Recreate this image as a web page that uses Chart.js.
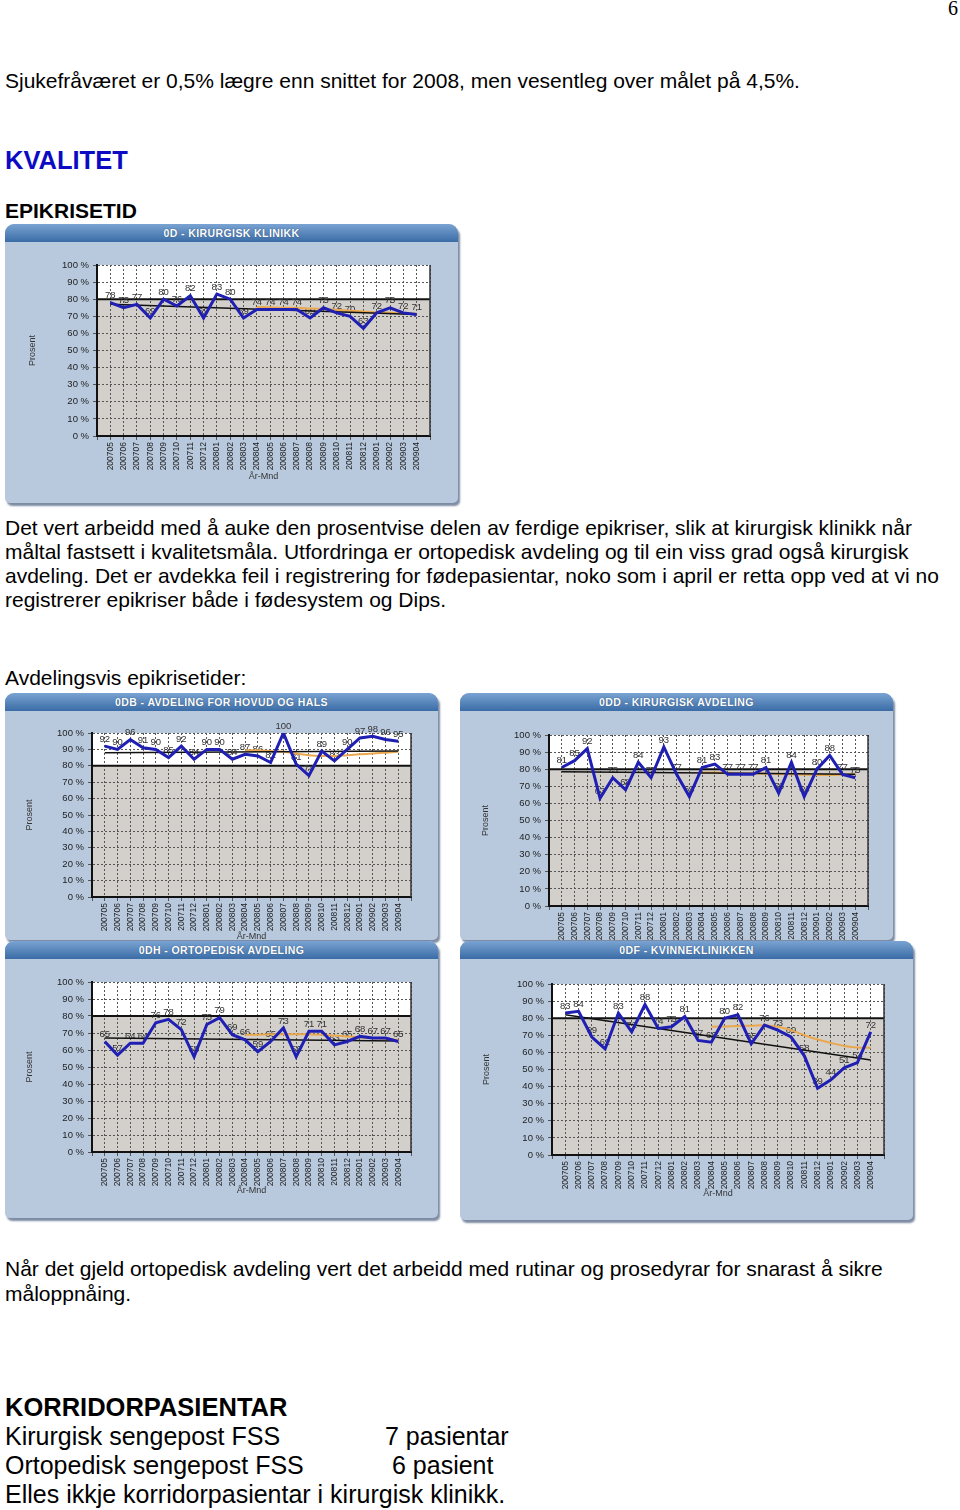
<!DOCTYPE html>
<html>
<head>
<meta charset="utf-8">
<script src="https://cdn.jsdelivr.net/npm/chart.js@4.4.0/dist/chart.umd.min.js"></script>
<style>
    body { margin: 0; width: 960px; height: 1510px; position: relative; background: #fff; overflow: hidden;
           font-family: "Liberation Sans", Arial, sans-serif; color: #000; }
    .t { position: absolute; left: 5px; white-space: nowrap; font-size: 21px; line-height: 24px; }
    .big { font-size: 25px; line-height: 28px; }
    .page-no { position: absolute; right: 2px; top: -3px; font: 20px "Liberation Serif", serif; }
    .panel { position: absolute; background: #b8c9de; border-radius: 9px 9px 5px 5px;
             box-shadow: 2px 3px 2px #7d8ca3; }
    .hdr { position: absolute; left: 0; right: 0; top: 0; height: 18px; border-radius: 9px 9px 0 0;
           background: linear-gradient(#79a3d2, #3b6ca6); color: #fff; text-align: center;
           font: bold 10.5px "Liberation Sans", Arial, sans-serif; line-height: 18px; letter-spacing: .4px;
           text-shadow: 0 0 1px #1d3e66; }
    .panel canvas { position: absolute; left: 0; }
</style>
</head>
<body>
<div class="page-no">6</div>
<div class="t" style="top:69px">Sjukefråværet er 0,5% lægre enn snittet for 2008, men vesentleg over målet på 4,5%.</div>
<div class="t" style="top:145px;font-size:25.5px;line-height:30px;font-weight:bold;color:#0b0bc4">KVALITET</div>
<div class="t" style="top:199px;font-weight:bold">EPIKRISETID</div>

<div class="panel" style="left:5px;top:224px;width:453px;height:279px">
    <div class="hdr">0D - KIRURGISK KLINIKK</div>
    <canvas id="c1" width="453" height="256" style="top:20px"></canvas>
</div>

<div class="t" style="top:516px">Det vert arbeidd med å auke den prosentvise delen av ferdige epikriser, slik at kirurgisk klinikk når</div>
<div class="t" style="top:540px">måltal fastsett i kvalitetsmåla. Utfordringa er ortopedisk avdeling og til ein viss grad også kirurgisk</div>
<div class="t" style="top:564px">avdeling. Det er avdekka feil i registrering for fødepasientar, noko som i april er retta opp ved at vi no</div>
<div class="t" style="top:588px">registrerer epikriser både i fødesystem og Dips.</div>

<div class="t" style="top:666px">Avdelingsvis epikrisetider:</div>

<div class="panel" style="left:5px;top:693px;width:433px;height:247px">
    <div class="hdr">0DB - AVDELING FOR HOVUD OG HALS</div>
    <canvas id="c2" width="433" height="227" style="top:20px"></canvas>
</div>
<div class="panel" style="left:460px;top:693px;width:433px;height:247px">
    <div class="hdr">0DD - KIRURGISK AVDELING</div>
    <canvas id="c3" width="433" height="227" style="top:20px"></canvas>
</div>
<div class="panel" style="left:5px;top:941px;width:433px;height:277px">
    <div class="hdr">0DH - ORTOPEDISK AVDELING</div>
    <canvas id="c4" width="433" height="255" style="top:19px"></canvas>
</div>
<div class="panel" style="left:460px;top:941px;width:453px;height:279px">
    <div class="hdr">0DF - KVINNEKLINIKKEN</div>
    <canvas id="c5" width="453" height="257" style="top:19px"></canvas>
</div>

<div class="t" style="top:1257px">Når det gjeld ortopedisk avdeling vert det arbeidd med rutinar og prosedyrar for snarast å sikre</div>
<div class="t" style="top:1282px">måloppnåing.</div>

<div class="t big" style="top:1393px;font-size:25.5px;font-weight:bold">KORRIDORPASIENTAR</div>
<div class="t big" style="top:1422px">Kirurgisk sengepost FSS</div>
<div class="t big" style="top:1422px;left:385px">7 pasientar</div>
<div class="t big" style="top:1451px">Ortopedisk sengepost FSS</div>
<div class="t big" style="top:1451px;left:392px">6 pasient</div>
<div class="t big" style="top:1480px">Elles ikkje korridorpasientar i kirurgisk klinikk.</div>

<script>
const months = ['200705', '200706', '200707', '200708', '200709', '200710', '200711', '200712',
    '200801', '200802', '200803', '200804', '200805', '200806', '200807', '200808', '200809', '200810',
    '200811', '200812', '200901', '200902', '200903', '200904'];

// share of finished discharge summaries, per month (%)
const kirKlinikk = [78, 75, 77, 69, 80, 76, 82, 69, 83, 80, 69, 74, 74, 74, 74, 69, 75, 72, 70, 63, 72, 75, 72, 71];
const hovudHals  = [92, 90, 96, 91, 90, 85, 92, 84, 90, 90, 84, 87, 86, 82, 100, 81, 74, 89, 83, 90, 97, 98, 96, 95];
const kirAvd     = [81, 85, 92, 63, 75, 68, 84, 75, 93, 77, 64, 81, 83, 77, 77, 77, 81, 66, 84, 64, 80, 88, 77, 75];
const ortoped    = [65, 57, 64, 64, 76, 78, 72, 56, 75, 79, 69, 66, 59, 65, 73, 56, 71, 71, 63, 65, 68, 67, 67, 65];
const kvinne     = [83, 84, 69, 62, 83, 72, 88, 74, 75, 81, 67, 66, 80, 82, 65, 76, 73, 69, 58, 39, 44, 51, 54, 72];

// trend line, first and last month
const kirKlinikkTrend = [77, 71];
const hovudHalsTrend  = [88, 89];
const kirAvdTrend     = [78.5, 77];
const ortopedTrend    = [67, 65.3];
const kvinneTrend     = [82, 55.6];

const avgFrom = 11;
const kirKlinikkAvg = [75.5, 75.3, 75, 75, 74.6, 74.2, 73.8, 73.3, 72.8, 72.4, 72.1, 71.8, 71.5];
const hovudHalsAvg  = [89.5, 89.5, 89, 88.5, 87.5, 86.5, 86, 86, 86.5, 87, 87.5, 88, 88.5];
const kirAvdAvg     = [78, 78, 77.8, 77.6, 77.5, 77.4, 77.2, 77, 76.8, 76.6, 76.6, 76.8, 77];
const ortopedAvg    = [69, 69, 69.2, 69.3, 69.3, 69.2, 69, 68.5, 68, 67.5, 67, 66.5, 66];
const kvinneAvg     = [75, 75.2, 75.5, 75.6, 75.8, 75, 73, 70, 67.5, 65.5, 63.8, 62.8, 62.7];

const target = 80;

Chart.defaults.font.family = '"Liberation Sans", Arial, sans-serif';

const plotDecor = {
    id: 'plotDecor',
    beforeDraw(chart) {
        const { ctx, chartArea: a, scales: { y } } = chart;
        const yt = y.getPixelForValue(target);
        ctx.save();
        ctx.fillStyle = '#fff';
        ctx.fillRect(a.left, a.top, a.width, a.height);
        ctx.fillStyle = '#d3d0cc';
        ctx.fillRect(a.left, yt, a.width, a.bottom - yt);
        ctx.restore();
    },
    beforeDatasetsDraw(chart) {
        const { ctx, chartArea: a, scales: { y } } = chart;
        const yt = y.getPixelForValue(target);
        ctx.save();
        ctx.strokeStyle = '#111';
        ctx.lineWidth = 2;
        ctx.beginPath();
        ctx.moveTo(a.left, yt);
        ctx.lineTo(a.right, yt);
        ctx.stroke();
        ctx.lineWidth = 1.5;
        ctx.strokeStyle = '#333';
        ctx.beginPath();
        ctx.moveTo(a.right, a.top);
        ctx.lineTo(a.right, a.bottom);
        ctx.stroke();

        // value labels
        ctx.font = '9.5px "Liberation Sans", Arial, sans-serif';
        ctx.fillStyle = '#333';
        ctx.textAlign = 'center';
        ctx.textBaseline = 'middle';
        const ds = chart.data.datasets[0].data;
        chart.getDatasetMeta(0).data.forEach((pt, i) => {
            ctx.fillText(ds[i].y, pt.x, pt.y - 7);
        });
        ctx.restore();
    }
};

function drawPanel(spec) {
    const cv = document.getElementById(spec.id);
    const a = spec.area;
    new Chart(cv, {
        type: 'line',
        data: {
            datasets: [{
                data: spec.values.map((v, i) => ({ x: i, y: v })),
                borderColor: '#1f1fb4',
                borderWidth: 3,
                pointRadius: 0,
                tension: 0
            }, {
                data: [{ x: 0, y: spec.trend[0] }, { x: months.length - 1, y: spec.trend[1] }],
                borderColor: '#111',
                borderWidth: 1.5,
                pointRadius: 0
            }, {
                data: spec.avg.map((v, i) => ({ x: i + avgFrom, y: v })),
                borderColor: '#eaa84e',
                borderWidth: 2,
                pointRadius: 0,
                tension: 0.4
            }]
        },
        options: {
            responsive: false,
            animation: false,
            devicePixelRatio: 1,
            layout: { padding: { top: a.top, right: cv.width - a.right, left: 0, bottom: 0 } },
            plugins: { legend: { display: false }, tooltip: { enabled: false } },
            scales: {
                x: {
                    type: 'linear',
                    min: -1,
                    max: months.length,
                    afterFit: s => { s.height = cv.height - a.bottom; },
                    ticks: {
                        stepSize: 1,
                        autoSkip: false,
                        maxRotation: 90,
                        minRotation: 90,
                        padding: 2,
                        color: '#222',
                        font: { size: 8.5 },
                        callback: v => months[v] ?? ''
                    },
                    grid: { color: '#555', tickLength: 4 },
                    border: { color: '#111', width: 2, dash: [2, 2] },
                    title: {
                        display: spec.xTitle !== undefined,
                        text: 'År-Mnd',
                        color: '#333',
                        font: { size: 9 },
                        padding: { top: 0, bottom: spec.xTitle !== undefined ? cv.height - spec.xTitle - 5.4 : 0 }
                    }
                },
                y: {
                    min: 0,
                    max: 100,
                    afterFit: s => { s.width = a.left; },
                    ticks: {
                        stepSize: 10,
                        padding: 4,
                        color: '#222',
                        font: { size: 9.5 },
                        callback: v => v + ' %'
                    },
                    grid: { color: '#555', tickLength: 4 },
                    border: { color: '#111', width: 2, dash: [2, 2] },
                    title: {
                        display: true,
                        text: 'Prosent',
                        color: '#333',
                        font: { size: 9 },
                        padding: { top: spec.yTitle - 5.4, bottom: 0 }
                    }
                }
            }
        },
        plugins: [plotDecor]
    });
}

drawPanel({ id: 'c1', values: kirKlinikk, trend: kirKlinikkTrend, avg: kirKlinikkAvg,
    area: { left: 92, top: 21, right: 425, bottom: 192 }, yTitle: 28, xTitle: 233 });
drawPanel({ id: 'c2', values: hovudHals, trend: hovudHalsTrend, avg: hovudHalsAvg,
    area: { left: 87, top: 20, right: 406, bottom: 184 }, yTitle: 25, xTitle: 224 });
drawPanel({ id: 'c3', values: kirAvd, trend: kirAvdTrend, avg: kirAvdAvg,
    area: { left: 89, top: 22, right: 408, bottom: 193 }, yTitle: 26 });
drawPanel({ id: 'c4', values: ortoped, trend: ortopedTrend, avg: ortopedAvg,
    area: { left: 87, top: 22, right: 406, bottom: 192 }, yTitle: 25, xTitle: 231 });
drawPanel({ id: 'c5', values: kvinne, trend: kvinneTrend, avg: kvinneAvg,
    area: { left: 92, top: 24, right: 424, bottom: 195 }, yTitle: 27, xTitle: 234 });
</script>
</body>
</html>
